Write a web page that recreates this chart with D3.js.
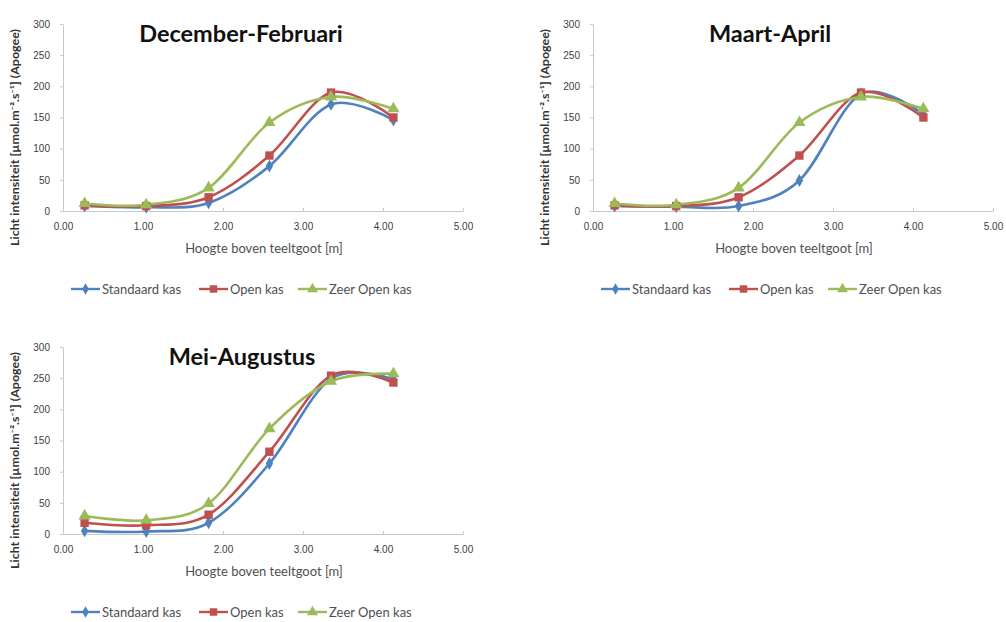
<!DOCTYPE html>
<html>
<head>
<meta charset="utf-8">
<script src="https://cdn.jsdelivr.net/npm/d3@7"></script>
<style>
    body { margin: 0; background: #fff; }
    svg { display: block; font-family: Lato, "Open Sans", sans-serif; }
</style>
</head>
<body>
<div id="chart"></div>
<script>
// data
const heights = [0.27, 1.04, 1.82, 2.58, 3.35, 4.13]
const seriesNames = ["Standaard kas", "Open kas", "Zeer Open kas"]
const decStd = [8, 6, 13, 72, 171, 146]
const decOpen = [9, 8, 22, 89, 190, 150]
const decZeer = [12, 10, 37, 142, 183, 164]
const marStd = [8, 7, 8, 49, 188, 155]
const marOpen = [9, 8, 22, 89, 190, 150]
const marZeer = [12, 10, 37, 142, 183, 164]
const meiStd = [5, 4, 18, 113, 249, 248]
const meiOpen = [18, 14, 31, 132, 254, 243]
const meiZeer = [29, 22, 49, 169, 245, 257]
const xTicks = [0, 1, 2, 3, 4, 5]
const yTicks = [0, 50, 100, 150, 200, 250, 300]
const xLabel = "Hoogte boven teeltgoot [m]"
const yLabel = "Licht intensiteit [µmol.m⁻².s⁻¹] (Apogee)"

const colors = ["#4f81bd", "#c0504d", "#9bbb59"]
const symbols = [d3.symbolDiamond, d3.symbolSquare, d3.symbolTriangle]
const symSizes = [48, 70, 65]

const panels = [
    { title: "December-Februari", series: [decStd, decOpen, decZeer], left: 63, top: 24, titleX: 241 },
    { title: "Maart-April", series: [marStd, marOpen, marZeer], left: 593, top: 24, titleX: 770 },
    { title: "Mei-Augustus", series: [meiStd, meiOpen, meiZeer], left: 63, top: 347, titleX: 242 },
]

const plotW = 400
const plotH = 187

const svg = d3.select("#chart")
    .append("svg")
    .attr("width", 1006)
    .attr("height", 622)

panels.forEach(drawPanel)

function drawPanel(p) {
    const g = svg.append("g").attr("transform", `translate(${p.left}, ${p.top})`)
    const x = d3.scaleLinear().domain([0, 5]).range([0, plotW])
    const y = d3.scaleLinear().domain([0, 300]).range([plotH, 0])

    // axes
    const xAxis = g.append("g")
        .attr("transform", `translate(0, ${plotH})`)
        .call(d3.axisBottom(x).tickValues(xTicks).tickSizeInner(-3).tickSizeOuter(0)
            .tickFormat(d3.format(".2f")).tickPadding(12))
    const yAxis = g.append("g")
        .call(d3.axisLeft(y).tickValues(yTicks).tickSizeInner(3).tickSizeOuter(0).tickPadding(10))
    ;[xAxis, yAxis].forEach(a => {
        a.select(".domain").attr("stroke", "#c8c8c8")
        a.selectAll(".tick line").attr("stroke", "#c8c8c8")
        a.selectAll("text").attr("fill", "#404040").style("font-size", "10px")
    })

    // title
    g.append("text")
        .attr("x", p.titleX - p.left)
        .attr("y", 18)
        .attr("text-anchor", "middle")
        .style("font-size", "23.5px")
        .style("font-weight", "bold")
        .attr("fill", "#111")
        .text(p.title)

    // axis titles
    g.append("text")
        .attr("x", plotW / 2 + 1)
        .attr("y", plotH + 42)
        .attr("text-anchor", "middle")
        .style("font-size", "13px")
        .attr("fill", "#505050")
        .text(xLabel)
    g.append("text")
        .attr("transform", `translate(-44, ${plotH / 2 + 20}) rotate(-90)`)
        .attr("text-anchor", "middle")
        .attr("textLength", 217)
        .attr("lengthAdjust", "spacingAndGlyphs")
        .style("font-size", "11px")
        .style("font-weight", "bold")
        .attr("fill", "#333")
        .text(yLabel)

    // lines + markers
    const line = d3.line()
        .x((d, i) => x(heights[i]))
        .y(d => y(d))
        .curve(d3.curveCardinal.tension(0))
    p.series.forEach((vals, s) => {
        g.append("path")
            .datum(vals)
            .attr("fill", "none")
            .attr("stroke", colors[s])
            .attr("stroke-width", 2.6)
            .attr("d", line)
    })
    p.series.forEach((vals, s) => {
        g.selectAll(null)
            .data(vals)
            .join("path")
            .attr("transform", (d, i) => `translate(${x(heights[i])}, ${y(d)})`)
            .attr("d", d3.symbol().type(symbols[s]).size(symSizes[s]))
            .attr("fill", colors[s])
    })

    // legend
    const legX = [8, 136, 235]
    const leg = g.append("g").attr("transform", `translate(0, ${plotH + 78})`)
    seriesNames.forEach((name, s) => {
        const lg = leg.append("g").attr("transform", `translate(${legX[s]}, 0)`)
        lg.append("line")
            .attr("x1", 0).attr("x2", 29)
            .attr("stroke", colors[s]).attr("stroke-width", 2.4)
        lg.append("path")
            .attr("transform", "translate(14.5, 0)")
            .attr("d", d3.symbol().type(symbols[s]).size(symSizes[s] * 0.8))
            .attr("fill", colors[s])
        lg.append("text")
            .attr("x", 31)
            .attr("dy", "0.35em")
            .style("font-size", "13px")
            .attr("fill", "#505050")
            .text(name)
    })
}
</script>
</body>
</html>
